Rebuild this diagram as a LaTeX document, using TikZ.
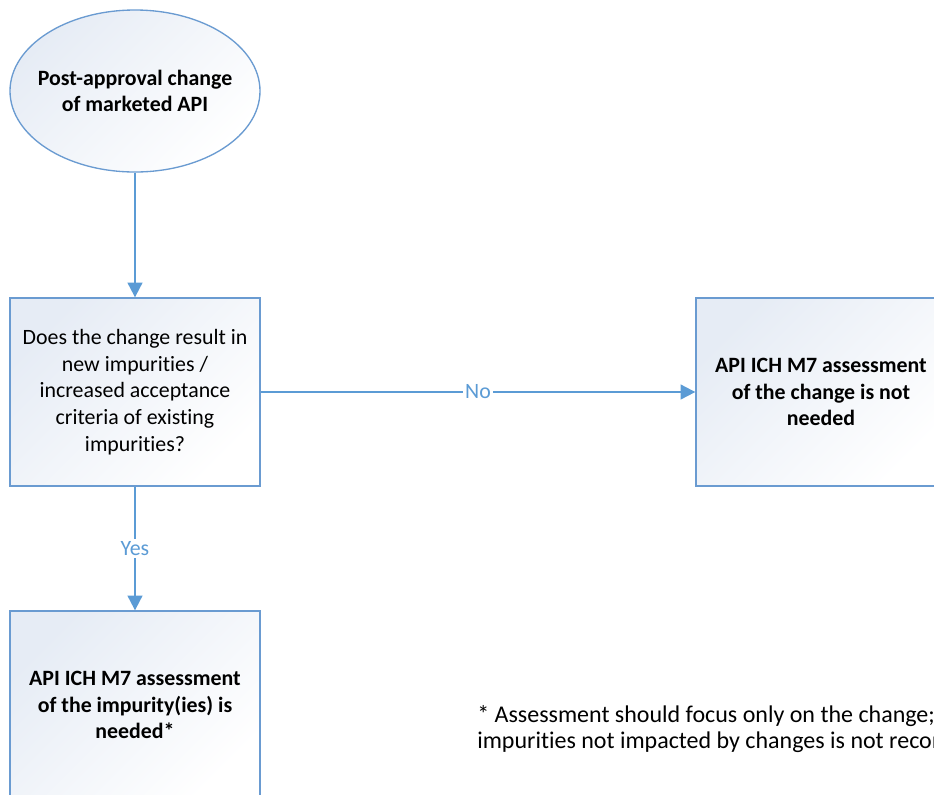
\documentclass[tikz,border=0pt]{standalone}
\usepackage{fontspec}
\setmainfont{Carlito}[Ligatures=NoCommon]
\usetikzlibrary{arrows.meta,shapes.geometric}
\definecolor{flowblue}{HTML}{5B9BD5}
\definecolor{boxline}{HTML}{6A9BD1}
\definecolor{boxtint}{HTML}{E6ECF5}
\begin{document}
\begin{tikzpicture}[x=0.75pt,y=-0.75pt,
  every node/.style={font=\fontsize{16.4}{20}\selectfont, align=center},
  shadedfill/.style={draw=boxline, line width=1pt, left color=boxtint, right color=white, shading angle=45},
  startshape/.style={ellipse, shadedfill, minimum width=187.5pt, minimum height=121.5pt, inner sep=0pt},
  boldtext/.style={font=\fontsize{16.4}{20}\selectfont\bfseries},
  processbox/.style={rectangle, shadedfill, minimum width=187.5pt, minimum height=141pt, inner sep=0pt},
  resultbox/.style={processbox, boldtext},
  flow/.style={draw=flowblue, line width=1.5pt, -{Triangle[length=11pt,width=11pt]}},
  flowlabel/.style={fill=white, text=flowblue, inner sep=1.5pt}
]
\useasboundingbox (0,0) rectangle (934,794);
\clip (0,0) rectangle (934,794);

% flowchart nodes
\node[startshape] (start) at (135,91) {};
\node[boldtext] (starttext) at (start.center) {Post-approval change\\of marketed API};
\node[processbox] (question) at (135,392) {Does the change result in\\new impurities /\\increased acceptance\\criteria of existing\\impurities?};
\node[resultbox] (notneeded) at (821,392) {API ICH M7 assessment\\of the change is not\\needed};
\node[resultbox] (needed) at (135,705) {API ICH M7 assessment\\of the impurity(ies) is\\needed*};

% connectors
\draw[flow] (start) -- (question);
\draw[flow] (question) -- node[flowlabel] {No} (notneeded);
\draw[flow] (question) -- node[flowlabel] {Yes} (needed);

% footnote
\node[anchor=west, align=left, inner sep=0pt, font=\fontsize{18}{20.2}\selectfont] (footnote) at (477,729) {* Assessment should focus only on the change;\\impurities not impacted by changes is not recommended};
\end{tikzpicture}
\end{document}
